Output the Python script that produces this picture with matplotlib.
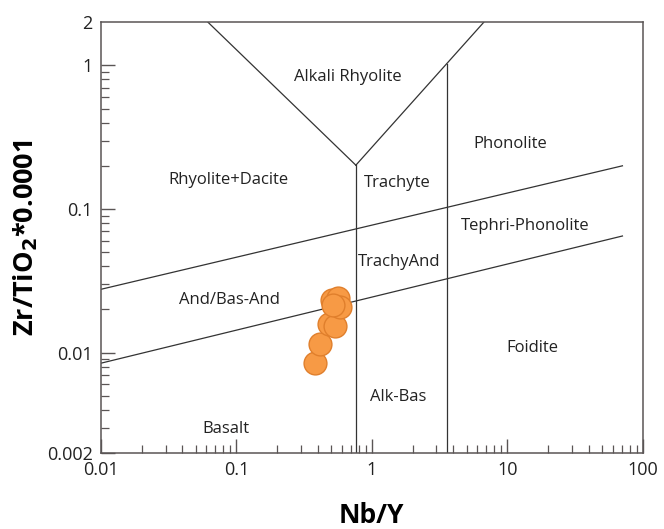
import numpy as np
import matplotlib
matplotlib.use("Agg")
import matplotlib.pyplot as plt

plt.rcParams['font.family'] = ['Open Sans', 'DejaVu Sans']

# samples
nb_y = [0.379, 0.413, 0.484, 0.533, 0.505, 0.564, 0.581, 0.518]
zr_ti = [0.00851, 0.01143, 0.01575, 0.01541, 0.02323, 0.0239, 0.0209, 0.0215]

# field boundaries (Nb/Y, Zr/TiO2*0.0001)
v_left_x = [0.0617, 0.762]
v_left_y = [2.0, 0.202]
v_right_x = [0.762, 6.71]
v_right_y = [0.202, 2.0]
trachyte_x = [0.762, 0.762]
trachyte_y = [0.202, 0.002]
phono_x = [3.56, 3.56]
phono_y = [1.02, 0.002]
upper_x = [0.01, 70.8]
upper_y = [0.0276, 0.2]
lower_x = [0.01, 70.8]
lower_y = [0.00844, 0.0649]

fields = ["Alkali Rhyolite", "Rhyolite+Dacite", "Trachyte", "Phonolite",
          "Tephri-Phonolite", "TrachyAnd", "And/Bas-And", "Foidite",
          "Alk-Bas", "Basalt"]
field_x = [0.665, 0.088, 1.53, 10.6, 13.5, 1.58, 0.089, 15.2, 1.57, 0.084]
field_y = [0.828, 0.159, 0.152, 0.283, 0.076, 0.0428, 0.0232, 0.0108, 0.0049, 0.00294]

fig = plt.figure(figsize=(6.64, 5.29), dpi=100)
ax = fig.add_axes([0.152, 0.1437, 0.816, 0.8143])

lc = '#333333'
for xs, ys in [(v_left_x, v_left_y), (v_right_x, v_right_y), (trachyte_x, trachyte_y),
               (phono_x, phono_y), (upper_x, upper_y), (lower_x, lower_y)]:
    ax.plot(xs, ys, color=lc, lw=0.9, zorder=2)

for name, x, y in zip(fields, field_x, field_y):
    ax.text(x, y, name, ha='center', va='center', fontsize=12, color='#222222')

ax.scatter(nb_y, zr_ti, s=270, facecolor='#F79A45', edgecolor='#E07F2C',
           linewidth=1.0, zorder=3)

ax.set_xscale('log')
ax.set_yscale('log')
ax.set_xlim(0.01, 100)
ax.set_ylim(0.002, 2)

ax.set_xticks([0.01, 0.1, 1, 10, 100])
ax.set_xticklabels(['0.01', '0.1', '1', '10', '100'])
ax.set_yticks([0.002, 0.01, 0.1, 1, 2])
ax.set_yticklabels(['0.002', '0.01', '0.1', '1', '2'])

for s in ax.spines.values():
    s.set_color('#5a5555')
    s.set_linewidth(1.1)

ax.tick_params(which='both', direction='in', color='#5a5555', labelsize=13,
               labelcolor='#222222', top=False, right=False)
ax.tick_params(which='major', length=10, width=1.0, pad=6)
ax.tick_params(which='minor', length=5.5, width=0.9)
# no tick mark at the top limit
ax.yaxis.get_major_ticks()[-1].tick1line.set_visible(False)

ax.set_xlabel('Nb/Y', fontsize=19, fontweight='bold', labelpad=16)
ax.set_ylabel('Zr/TiO$_\\mathbf{2}$*0.0001', fontsize=19.5, fontweight='bold', labelpad=5)

fig.savefig('out.png', dpi=100)
